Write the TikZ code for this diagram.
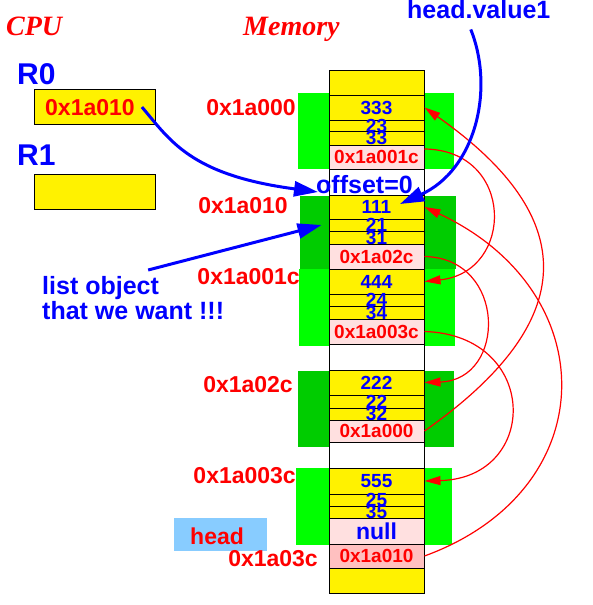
\documentclass[tikz,border=0pt]{standalone}
\usepackage{fontspec}
\setmainfont{Liberation Sans}
\newfontfamily\titlefont{Liberation Serif}
\usetikzlibrary{arrows.meta}

\definecolor{cellpink}{RGB}{255,224,224}
\definecolor{headpink}{RGB}{255,192,192}
\definecolor{litegreen}{RGB}{0,255,0}
\definecolor{darkgreen}{RGB}{0,204,0}
\definecolor{headblue}{RGB}{136,204,255}

\tikzset{
    cputitle/.style={inner sep=0pt, text=red, font=\titlefont\fontsize{28}{28}\selectfont\bfseries\itshape},
    regname/.style={inner sep=0pt, text=blue, font=\fontsize{30}{30}\selectfont\bfseries},
    regbox/.style={draw, line width=1pt, fill=yellow, minimum width=121pt, minimum height=35pt},
    addr/.style={inner sep=0pt, text=red, font=\fontsize{23}{23}\selectfont\bfseries},
    note/.style={inner sep=0pt, text=blue, font=\fontsize{25}{25}\selectfont\bfseries},
    cell/.style={draw, line width=1pt, inner sep=0pt, fill=yellow, minimum width=95pt},
    every label/.style={inner sep=0pt, text=blue, font=\fontsize{19}{19}\selectfont\bfseries},
    link/.style={red, line width=1.2pt, -{Triangle[length=16pt, width=9pt]}},
    bigptr/.style={blue, line width=3pt, -{Triangle[length=24pt, width=15pt]}}
}

\begin{document}
\begin{tikzpicture}[x=1pt, y=-1pt]
    \useasboundingbox (0, 0) rectangle (592, 605);
    \fill[litegreen] (298, 93) rectangle (454, 169);
    \fill[darkgreen] (300, 196) rectangle (456, 269);
    \fill[litegreen] (299, 269) rectangle (455, 346);
    \fill[darkgreen] (298, 371) rectangle (454, 447);
    \fill[litegreen] (296, 468) rectangle (452, 545);
    \fill[headblue] (174, 518) rectangle (267, 551);

    \node[cputitle, anchor=base west] (cpu) at (6, 35) {CPU};
    \node[cputitle, anchor=base west] (mem) at (243, 35) {Memory};

    \node[regname, anchor=base west] (r0) at (17, 84) {R0};
    \node[regbox] (r0box) at (94.5, 106.5) {};
    \node[addr, anchor=base west] (r0val) at (45, 115) {0x1a010};
    \node[regname, anchor=base west] (r1) at (17, 165) {R1};
    \node[regbox] (r1box) at (94.5, 191.5) {};

    % memory column
    \node[cell, minimum height=25] (m0) at (376.5, 82.5) {};
    \node[cell, minimum height=25, label=center:333] (m333) at (376.5, 107.5) {};
    \node[cell, minimum height=11, label=center:23] (m23) at (376.5, 125.5) {};
    \node[cell, minimum height=14, label=center:33] (m33) at (376.5, 138) {};
    \node[cell, fill=cellpink, minimum height=24, label={[text=red]center:0x1a001c}] (p001c) at (376.5, 157) {};
    \node[cell, fill=white, minimum height=26] (w0) at (376.5, 182) {};
    \node[cell, minimum height=24, label=center:111] (m111) at (376.5, 207) {};
    \node[cell, minimum height=12, label=center:21] (m21) at (376.5, 225) {};
    \node[cell, minimum height=13, label=center:31] (m31) at (376.5, 237.5) {};
    \node[cell, fill=cellpink, minimum height=25, label={[text=red]center:0x1a02c}] (p02c) at (376.5, 256.5) {};
    \node[cell, minimum height=25, label=center:444] (m444) at (376.5, 281.5) {};
    \node[cell, minimum height=12, label=center:24] (m24) at (376.5, 300) {};
    \node[cell, minimum height=13, label=center:34] (m34) at (376.5, 312.5) {};
    \node[cell, fill=cellpink, minimum height=25, label={[text=red]center:0x1a003c}] (p003c) at (376.5, 331.5) {};
    \node[cell, fill=white, minimum height=26] (w1) at (376.5, 357) {};
    \node[cell, minimum height=25, label=center:222] (m222) at (376.5, 382.5) {};
    \node[cell, minimum height=13, label=center:22] (m22) at (376.5, 401.5) {};
    \node[cell, minimum height=12, label=center:32] (m32) at (376.5, 414) {};
    \node[cell, fill=cellpink, minimum height=22, label={[text=red]center:0x1a000}] (p000) at (376.5, 431) {};
    \node[cell, fill=white, minimum height=26] (w2) at (376.5, 455) {};
    \node[cell, minimum height=26, label=center:555] (m555) at (376.5, 481) {};
    \node[cell, minimum height=12, label=center:25] (m25) at (376.5, 500) {};
    \node[cell, minimum height=12, label=center:35] (m35) at (376.5, 512) {};
    \node[cell, fill=cellpink, minimum height=26, label={[font=\fontsize{23}{23}\selectfont\bfseries]center:null}] (pnull) at (376.5, 531) {};
    \node[cell, fill=headpink, minimum height=24, label={[text=red]center:0x1a010}] (phead) at (376.5, 556) {};
    \node[cell, minimum height=25] (m9) at (376.5, 580.5) {};

    % addresses
    \node[addr, anchor=base east] (a000) at (296, 115) {0x1a000};
    \node[addr, anchor=base east] (a010) at (288, 213) {0x1a010};
    \node[addr, anchor=base east] (a001c) at (300, 284) {0x1a001c};
    \node[addr, anchor=base east] (a02c) at (293, 392) {0x1a02c};
    \node[addr, anchor=base east] (a003c) at (296, 483) {0x1a003c};
    \node[addr, anchor=base east] (a03c) at (318, 566) {0x1a03c};
    \node[addr, anchor=base west] (head) at (190, 544) {head};

    % next pointers
    \draw[link] ([yshift=8pt]p001c.east) .. controls (515, 150) and (515, 272) .. (m444.east);
    \draw[link] (p02c.east) .. controls (507, 258) and (507, 380) .. (m222.east);
    \draw[link] (p003c.east) .. controls (540, 335) and (540, 478) .. (m555.east);
    \draw[link] (p000.east) .. controls (581, 321) and (581, 217.5) .. (m333.east);
    \draw[link] (phead.east) .. controls (605, 490) and (605, 291) .. (m111.east);

    % notes
    \node[note, anchor=base west] (offs) at (316, 193) {offset=0};
    \node[note, anchor=base west] (hv) at (407, 19) {head.value1};
    \node[note, anchor=north west, align=left] (lst) at (42, 276) {list object\\that we want !!!};
    \coordinate (offtip) at (318, 192);
    \coordinate (hvtip) at (400, 204);
    \draw[bigptr] ([xshift=7pt]r0val.east) .. controls (170, 140) and (190, 175) .. (offtip);
    \draw[bigptr] ([shift={(15,-6)}]lst.north) -- ([xshift=-7pt]m21.west);
    \draw[bigptr] ([shift={(-8,10)}]hv.south) .. controls (495, 90) and (475, 170) .. (hvtip);
\end{tikzpicture}
\end{document}
